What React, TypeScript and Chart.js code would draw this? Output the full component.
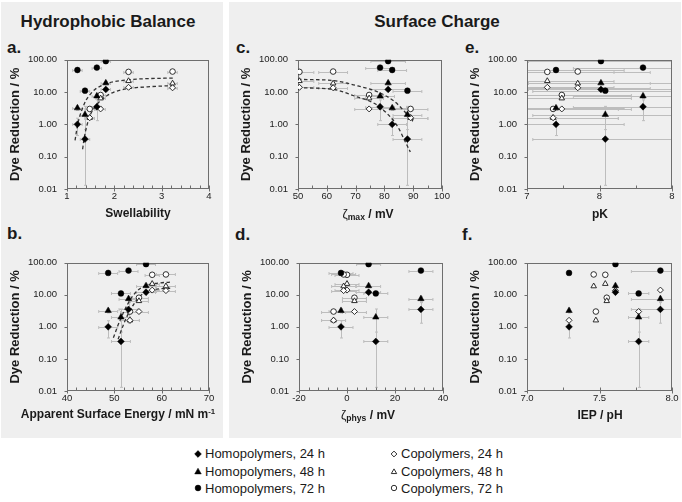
import React, { useEffect, useRef } from "react";
import { Chart, registerables } from "chart.js";

Chart.register(...registerables);

const FONT = '"Liberation Sans", Arial, Helvetica, sans-serif';
const PANEL_BG = "#efefef";

// ---------- Dye reduction (%) for polymers 1–4 of each class ----------
const homoDye24 = [1.0, 0.35, 3.5, 12];
const homoDye48 = [3.2, 2.0, 7.5, 19];
const homoDye72 = [48, 11, 57, 90];
const coDye24 = [1.6, 3.0, 14, 13.5];
const coDye48 = [1.6, 6.4, 22, 18.5];
const coDye72 = [3.0, 8.1, 42, 43];

// vertical error (± %)
const homoErr24 = [0.55, 0.337, 2.2, 1.2];
const homoErr48 = [0.5, 1.6, 1.2, 2.5];
const homoErr72 = [4, 1.5, 6, 5];
const coErr24 = [0.15, 0.3, 1.2, 1.0];
const coErr48 = [0.15, 0.6, 2, 1.5];
const coErr72 = [0.3, 0.8, 4, 4];

// ---------- Material properties ----------
const swellHomo = [1.22, 1.38, 1.63, 1.82];
const swellCo = [1.48, 1.71, 2.3, 3.23];
const swellErrHomo = [0.1, 0.1, 0.1, 0.1];
const swellErrCo = [0.1, 0.1, 0.1, 0.1];

const surfHomo = [48.7, 51.4, 53.0, 56.7];
const surfCo = [53.3, 55.2, 58.0, 60.9];
const surfErrHomo = [2, 2, 2, 2];
const surfErrCo = [2, 2, 1.5, 2];

const zmaxHomo = [82.7, 88.0, 78.5, 81.3];
const zmaxCo = [89.1, 74.7, 50.5, 62.2];
const zmaxErrHomo = [5, 5, 5, 6];
const zmaxErrCo = [6, 5, 5, 5];

const zphysHomo = [-2.5, 12.0, 30.8, 9.0];
const zphysCo = [-5.6, 3.1, 0.0, -1.4];
const zphysErrHomo = [5, 5, 5, 5];
const zphysErrCo = [5, 5, 5, 5];

const pkHomo = [7.2, 7.54, 7.8, 7.51];
const pkCo = [7.18, 7.24, 7.14, 7.35];
const pkErrHomo = [0.47, 0.5, 0.48, 0.5];
const pkErrCo = [0.45, 0.48, 0.46, 0.5];

const iepHomo = [7.29, 7.77, 7.92, 7.61];
const iepCo = [7.475, 7.55, 7.54, 7.46];
const iepCo24 = [7.29, 7.77, 7.92, 7.61]; // positions of the copolymer 24 h markers as drawn
const iepErrHomo = [0, 0.07, 0.2, 0];
const iepErrCo = [0, 0, 0, 0];

// ---------- Dashed fit curves ----------
const fitSwellUpperX = [1.17, 1.22, 1.27, 1.33, 1.4, 1.5, 1.59, 1.7, 1.84, 2.0, 2.3, 2.7, 3.25];
const fitSwellUpperY = [0.32, 0.9, 1.8, 3.2, 5.5, 8.8, 12, 15, 18.5, 21, 24, 26, 27];
const fitSwellLowerX = [1.33, 1.36, 1.4, 1.45, 1.5, 1.6, 1.7, 1.85, 1.98, 2.3, 2.7, 3.25];
const fitSwellLowerY = [0.17, 0.35, 0.7, 1.3, 2.1, 3.6, 5.3, 7.8, 9.8, 12.8, 14.5, 15.8];

const fitSurfUpperX = [49.8, 51.2, 53.0, 54.7, 56.5, 58.6, 61.8];
const fitSurfUpperY = [0.46, 1.6, 5.7, 12.7, 19, 22.5, 25];
const fitSurfLowerX = [50.8, 51.9, 53.3, 55.1, 56.8, 59.0, 61.8];
const fitSurfLowerY = [0.41, 1.15, 3.2, 8, 12.7, 15, 16];

const fitZmaxUpperX = [50, 61.6, 70.8, 77.8, 83.6, 87.0, 89.9];
const fitZmaxUpperY = [24.5, 23, 15.4, 10, 5, 2.5, 1.25];
const fitZmaxLowerX = [50, 61.6, 70.8, 76.6, 81.3, 84.8, 87.0, 89.0];
const fitZmaxLowerY = [13.5, 12.3, 6.9, 4.4, 2.0, 0.8, 0.32, 0.14];

// ---------- Axis ticks ----------
const dyeTicks = [0.01, 0.1, 1, 10, 100];
const swellTicks = [1, 2, 3, 4];
const surfTicks = [40, 50, 60, 70];
const zmaxTicks = [50, 60, 70, 80, 90, 100];
const zphysTicks = [-20, 0, 20, 40];
const pkTicks = [7, 7.5, 8];
const iepTicks = [7, 7.5, 8];

// ---------- Series ----------
type SeriesKey = "h24" | "h48" | "h72" | "c24" | "c48" | "c72";
const SERIES: {
  key: SeriesKey;
  label: string;
  homo: boolean;
  dye: number[];
  err: number[];
  style: string;
  radius: number;
}[] = [
  { key: "h24", label: "Homopolymers, 24 h", homo: true, dye: homoDye24, err: homoErr24, style: "rectRot", radius: 3.4 },
  { key: "h48", label: "Homopolymers, 48 h", homo: true, dye: homoDye48, err: homoErr48, style: "triangle", radius: 3.7 },
  { key: "h72", label: "Homopolymers, 72 h", homo: true, dye: homoDye72, err: homoErr72, style: "circle", radius: 2.9 },
  { key: "c24", label: "Copolymers, 24 h", homo: false, dye: coDye24, err: coErr24, style: "rectRot", radius: 3.0 },
  { key: "c48", label: "Copolymers, 48 h", homo: false, dye: coDye48, err: coErr48, style: "triangle", radius: 3.2 },
  { key: "c72", label: "Copolymers, 72 h", homo: false, dye: coDye72, err: coErr72, style: "circle", radius: 2.8 },
];

type PanelSpec = {
  id: string;
  plot: [number, number, number, number];
  min: number;
  max: number;
  majors: number[];
  minorStep: number;
  fmt: (v: number) => string;
  homoX: number[];
  coX: number[];
  co24X?: number[];
  homoXErr: number[];
  coXErr: number[];
  fits: { x: number[]; y: number[] }[];
};

const PANELS: PanelSpec[] = [
  {
    id: "a", plot: [67, 54, 209, 189], min: 1, max: 4, majors: swellTicks, minorStep: 0.2,
    fmt: (v) => String(v), homoX: swellHomo, coX: swellCo, homoXErr: swellErrHomo, coXErr: swellErrCo,
    fits: [{ x: fitSwellUpperX, y: fitSwellUpperY }, { x: fitSwellLowerX, y: fitSwellLowerY }],
  },
  {
    id: "b", plot: [67, 257, 209, 391], min: 40, max: 70, majors: surfTicks, minorStep: 2,
    fmt: (v) => String(v), homoX: surfHomo, coX: surfCo, homoXErr: surfErrHomo, coXErr: surfErrCo,
    fits: [{ x: fitSurfUpperX, y: fitSurfUpperY }, { x: fitSurfLowerX, y: fitSurfLowerY }],
  },
  {
    id: "c", plot: [298, 54, 442, 189], min: 50, max: 100, majors: zmaxTicks, minorStep: 5,
    fmt: (v) => String(v), homoX: zmaxHomo, coX: zmaxCo, homoXErr: zmaxErrHomo, coXErr: zmaxErrCo,
    fits: [{ x: fitZmaxUpperX, y: fitZmaxUpperY }, { x: fitZmaxLowerX, y: fitZmaxLowerY }],
  },
  {
    id: "d", plot: [299, 257, 443, 391], min: -20, max: 40, majors: zphysTicks, minorStep: 4,
    fmt: (v) => String(v), homoX: zphysHomo, coX: zphysCo, homoXErr: zphysErrHomo, coXErr: zphysErrCo,
    fits: [],
  },
  {
    id: "e", plot: [527, 54, 672, 189], min: 7, max: 8, majors: pkTicks, minorStep: 0.25,
    fmt: (v) => String(Math.round(v)), homoX: pkHomo, coX: pkCo, homoXErr: pkErrHomo, coXErr: pkErrCo,
    fits: [],
  },
  {
    id: "f", plot: [527, 257, 672, 391], min: 7, max: 8, majors: iepTicks, minorStep: 0.25,
    fmt: (v) => v.toFixed(1), homoX: iepHomo, coX: iepCo, co24X: iepCo24, homoXErr: iepErrHomo, coXErr: iepErrCo,
    fits: [],
  },
];

const Y_AXIS_W = 67;
const X_AXIS_H = 22;
const PAD_TOP = 10;
const PAD_RIGHT = 10;

function makeFramePlugin(p: PanelSpec) {
  const minors: number[] = [];
  for (let v = p.min; v <= p.max + 1e-9; v += p.minorStep) {
    const r = Math.round(v * 1000) / 1000;
    if (!p.majors.some((m) => Math.abs(m - r) < 1e-6)) minors.push(r);
  }
  return {
    id: "frame" + p.id,
    beforeDatasetsDraw(chart: any) {
      const { ctx, chartArea: ca } = chart;
      const xs = chart.scales.x;
      const ys = chart.scales.y;
      // error bars
      ctx.save();
      ctx.beginPath();
      ctx.rect(ca.left, ca.top, ca.right - ca.left, ca.bottom - ca.top);
      ctx.clip();
      ctx.strokeStyle = "#bdbdbd";
      ctx.lineWidth = 1;
      chart.data.datasets.forEach((ds: any) => {
        if (!ds.errX && !ds.errY) return;
        ds.data.forEach((pt: any, j: number) => {
          const px = xs.getPixelForValue(pt.x);
          const py = ys.getPixelForValue(pt.y);
          const ex = ds.errX ? ds.errX[j] : 0;
          const ey = ds.errY ? ds.errY[j] : 0;
          if (ex > 0) {
            const x1 = xs.getPixelForValue(pt.x - ex);
            const x2 = xs.getPixelForValue(pt.x + ex);
            const yy = Math.round(py) + 0.5;
            ctx.beginPath();
            ctx.moveTo(x1, yy);
            ctx.lineTo(x2, yy);
            ctx.moveTo(x1, yy - 1.5);
            ctx.lineTo(x1, yy + 1.5);
            ctx.moveTo(x2, yy - 1.5);
            ctx.lineTo(x2, yy + 1.5);
            ctx.stroke();
          }
          if (ey > 0) {
            const lo = Math.max(pt.y - ey, 0.005);
            const y1 = ys.getPixelForValue(lo);
            const y2 = ys.getPixelForValue(pt.y + ey);
            const xx = Math.round(px) + 0.5;
            ctx.beginPath();
            ctx.moveTo(xx, y1);
            ctx.lineTo(xx, y2);
            ctx.moveTo(xx - 1.5, y1);
            ctx.lineTo(xx + 1.5, y1);
            ctx.moveTo(xx - 1.5, y2);
            ctx.lineTo(xx + 1.5, y2);
            ctx.stroke();
          }
        });
      });
      ctx.restore();

      // frame and ticks
      ctx.save();
      ctx.strokeStyle = "#6e6e6e";
      ctx.lineWidth = 1;
      const L = Math.round(ca.left) + 0.5;
      const R = Math.round(ca.right) - 0.5;
      const T = Math.round(ca.top) + 0.5;
      const B = Math.round(ca.bottom) - 0.5;
      ctx.strokeRect(L, T, R - L, B - T);
      ctx.beginPath();
      p.majors.forEach((v) => {
        const x = Math.round(xs.getPixelForValue(v)) + 0.5;
        ctx.moveTo(x, B - 3);
        ctx.lineTo(x, B + 3);
      });
      minors.forEach((v) => {
        const x = Math.round(xs.getPixelForValue(v)) + 0.5;
        ctx.moveTo(x, B - 3);
        ctx.lineTo(x, B);
      });
      dyeTicks.forEach((v) => {
        const y = Math.round(ys.getPixelForValue(v)) + 0.5;
        ctx.moveTo(L - 3, y);
        ctx.lineTo(L, y);
      });
      ctx.stroke();
      ctx.restore();
    },
  };
}

function PanelChart({ p }: { p: PanelSpec }) {
  const ref = useRef<HTMLCanvasElement>(null);
  const [l, t, r, b] = p.plot;
  const left = l - Y_AXIS_W;
  const top = t - PAD_TOP;
  const width = r + PAD_RIGHT - left;
  const height = b + X_AXIS_H - top;

  useEffect(() => {
    const datasets: any[] = [];
    SERIES.forEach((s) => {
      const xs = s.key === "c24" && p.co24X ? p.co24X : s.homo ? p.homoX : p.coX;
      const xe = s.homo ? p.homoXErr : p.coXErr;
      datasets.push({
        type: "scatter",
        label: s.label,
        data: xs.map((x, i) => ({ x, y: s.dye[i] })),
        errX: xe,
        errY: s.err,
        pointStyle: s.style,
        pointRadius: s.radius,
        pointBackgroundColor: s.homo ? "#000000" : "#ffffff",
        pointBorderColor: s.homo ? "#000000" : "#1a1a1a",
        pointBorderWidth: s.homo ? 0.5 : 0.9,
        showLine: false,
      });
    });
    p.fits.forEach((f) => {
      datasets.push({
        type: "line",
        data: f.x.map((x, i) => ({ x, y: f.y[i] })),
        borderColor: "#333333",
        borderWidth: 1.3,
        borderDash: [3.5, 2.5],
        pointRadius: 0,
        fill: false,
        cubicInterpolationMode: "monotone",
      });
    });

    const chart = new Chart(ref.current as HTMLCanvasElement, {
      type: "scatter",
      data: { datasets },
      options: {
        responsive: false,
        animation: false,
        events: [],
        layout: { padding: { left: 0, top: PAD_TOP, right: PAD_RIGHT, bottom: 0 } },
        plugins: {
          legend: { display: false },
          tooltip: { enabled: false },
          title: { display: false },
        },
        scales: {
          x: {
            type: "linear",
            min: p.min,
            max: p.max,
            afterBuildTicks: (s: any) => {
              s.ticks = p.majors.map((v) => ({ value: v }));
            },
            afterFit: (s: any) => {
              s.height = X_AXIS_H;
            },
            ticks: {
              callback: (v: any) => p.fmt(Number(v)),
              font: { family: FONT, size: 9.5 },
              color: "#222222",
              padding: 2,
              maxRotation: 0,
              autoSkip: false,
            },
            grid: { display: false, drawTicks: false },
            border: { display: false },
          },
          y: {
            type: "logarithmic",
            min: 0.01,
            max: 100,
            afterBuildTicks: (s: any) => {
              s.ticks = dyeTicks.map((v) => ({ value: v }));
            },
            afterFit: (s: any) => {
              s.width = Y_AXIS_W;
            },
            ticks: {
              callback: (v: any) => Number(v).toFixed(2),
              font: { family: FONT, size: 9.5 },
              color: "#222222",
              padding: 10,
              autoSkip: false,
            },
            title: {
              display: true,
              text: "Dye Reduction / %",
              font: { family: FONT, size: 13, weight: "bold" },
              color: "#1a1a1a",
              padding: { top: 8, bottom: 0 },
            },
            grid: { display: false, drawTicks: false },
            border: { display: false },
          },
        },
      } as any,
      plugins: [makeFramePlugin(p)],
    });
    return () => chart.destroy();
  }, []);

  return (
    <canvas
      ref={ref}
      width={width}
      height={height}
      style={{ position: "absolute", left, top, width, height }}
    />
  );
}

function Txt(props: {
  x: number;
  y: number;
  size: number;
  bold?: boolean;
  center?: boolean;
  color?: string;
  children: React.ReactNode;
}) {
  const { x, y, size, bold, center, color, children } = props;
  const style: React.CSSProperties = {
    position: "absolute",
    left: x,
    top: y - 0.8465 * size,
    fontFamily: FONT,
    fontSize: size,
    lineHeight: `${size}px`,
    fontWeight: bold ? 700 : 400,
    color: color || "#1a1a1a",
    whiteSpace: "nowrap",
    transform: center ? "translateX(-50%)" : undefined,
  };
  return <div style={style}>{children}</div>;
}

const Sub = ({ children }: { children: React.ReactNode }) => (
  <span style={{ fontSize: "0.72em", position: "relative", top: "0.3em" }}>{children}</span>
);
const Sup = ({ children }: { children: React.ReactNode }) => (
  <span style={{ fontSize: "0.65em", position: "relative", top: "-0.5em" }}>{children}</span>
);
const Zeta = () => <span style={{ fontWeight: 400 }}>ζ</span>;

function LegendMarker({ style, filled }: { style: string; filled: boolean }) {
  const fill = filled ? "#000" : "#fff";
  const stroke = filled ? "#000" : "#1a1a1a";
  const sw = filled ? 0.5 : 0.9;
  let shape: React.ReactNode;
  if (style === "rectRot") {
    const r = filled ? 3.4 : 2.9;
    shape = <polygon points={`5,${5 - r} ${5 + r},5 5,${5 + r} ${5 - r},5`} fill={fill} stroke={stroke} strokeWidth={sw} />;
  } else if (style === "triangle") {
    const r = filled ? 3.8 : 3.1;
    const h = r * 0.866;
    shape = <polygon points={`5,${5 - r} ${5 + h},${5 + r / 2} ${5 - h},${5 + r / 2}`} fill={fill} stroke={stroke} strokeWidth={sw} />;
  } else {
    shape = <circle cx={5} cy={5} r={filled ? 2.9 : 2.7} fill={fill} stroke={stroke} strokeWidth={sw} />;
  }
  return (
    <svg width={10} height={10} style={{ position: "absolute", left: -5, top: -5, overflow: "visible" }}>
      {shape}
    </svg>
  );
}

const LEGEND_ROWS = [453.8, 471.8, 488.2];

export default function App() {
  return (
    <div
      style={{
        position: "absolute",
        left: 0,
        top: 0,
        width: 682,
        height: 502,
        background: "#ffffff",
        overflow: "hidden",
      }}
    >
      <div style={{ position: "absolute", left: 1, top: 2, width: 222, height: 436, background: PANEL_BG }} />
      <div style={{ position: "absolute", left: 229, top: 2, width: 452, height: 436, background: PANEL_BG }} />

      <Txt x={108} y={27.3} size={17} bold center>Hydrophobic Balance</Txt>
      <Txt x={437} y={27.3} size={17} bold center>Surface Charge</Txt>

      <Txt x={7} y={53.5} size={17} bold>a.</Txt>
      <Txt x={7} y={239} size={17} bold>b.</Txt>
      <Txt x={236} y={53.5} size={17} bold>c.</Txt>
      <Txt x={235} y={240} size={17} bold>d.</Txt>
      <Txt x={465} y={53.5} size={17} bold>e.</Txt>
      <Txt x={462} y={240} size={17} bold>f.</Txt>

      {PANELS.map((p) => (
        <PanelChart key={p.id} p={p} />
      ))}

      <Txt x={138} y={217} size={12} bold center>Swellability</Txt>
      <Txt x={118} y={418} size={12} bold center>
        Apparent Surface Energy / mN m<Sup>-1</Sup>
      </Txt>
      <Txt x={368} y={218} size={12} bold center>
        <Zeta />
        <Sub>max</Sub> / mV
      </Txt>
      <Txt x={368} y={419} size={12} bold center>
        <Zeta />
        <Sub>phys</Sub> / mV
      </Txt>
      <Txt x={600} y={218} size={12} bold center>pK</Txt>
      <Txt x={600} y={419} size={12} bold center>IEP / pH</Txt>

      {SERIES.map((s) => {
        const idx = ["24", "48", "72"].indexOf(s.key.slice(1));
        const cy = LEGEND_ROWS[idx];
        const mx = s.homo ? 198 : 394;
        return (
          <React.Fragment key={s.key}>
            <div style={{ position: "absolute", left: mx, top: cy }}>
              <LegendMarker style={s.style} filled={s.homo} />
            </div>
            <Txt x={mx + 7} y={cy + 4.7} size={13} color="#1a1a1a">
              {s.label}
            </Txt>
          </React.Fragment>
        );
      })}
    </div>
  );
}
